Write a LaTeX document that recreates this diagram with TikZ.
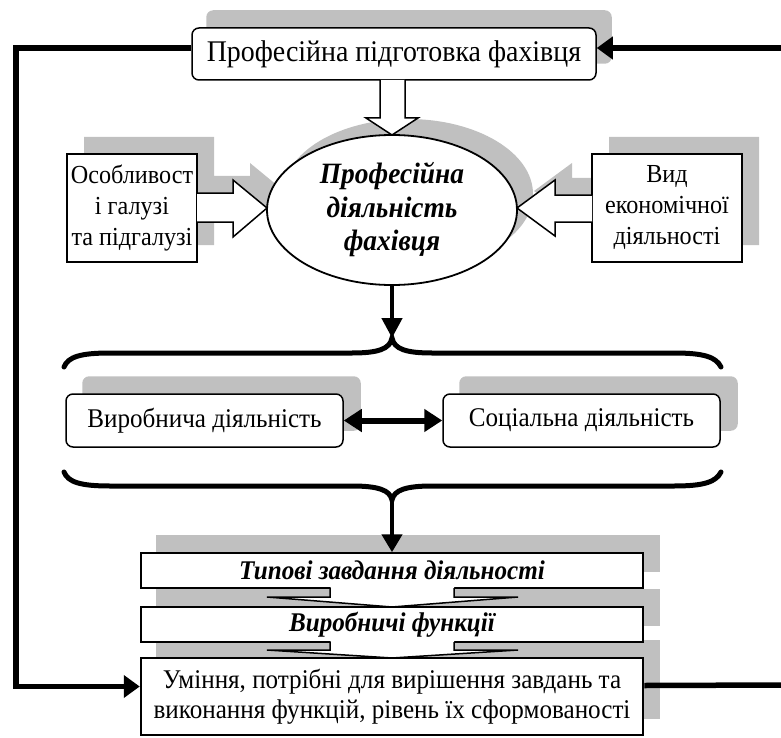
\documentclass[tikz,border=0pt]{standalone}
\usepackage{fontspec}
\setmainfont[FakeStretch=0.93]{Liberation Serif}
\usetikzlibrary{arrows.meta,calc,shapes.geometric}
\definecolor{shade}{RGB}{192,192,192}
\pgfdeclarelayer{bg}
\pgfsetlayers{bg,main}
\tikzset{
  box/.style={draw, line width=1.5pt, fill=white, inner sep=0pt, align=center},
  rbox/.style={box, rounded corners=7pt},
  fbline/.style={line width=5.5pt},
  fbtip/.style={-{Triangle[length=16pt,width=22pt]}},
  hollow/.style={draw, line width=1.5pt, fill=white, line join=miter},
  bracestyle/.style={line width=5pt, line cap=round},
  shadowfill/.style={fill=shade},
  toptxt/.style={font=\fontsize{30}{34}\selectfont},
  sidetxt/.style={font=\fontsize{26}{31}\selectfont},
  midtxt/.style={font=\fontsize{27}{31}\selectfont},
  lowtxt/.style={font=\bfseries\itshape\fontsize{27}{30}\selectfont},
  skltxt/.style={font=\fontsize{27}{30}\selectfont},
  elltxt/.style={font=\bfseries\itshape\fontsize{29.5}{33.5}\selectfont},
}
\begin{document}
\begin{tikzpicture}[x=1pt,y=-1pt]
\useasboundingbox (0,0) rectangle (781,738);

% nodes
\node[rbox, toptxt, minimum width=404pt, minimum height=52pt] (top) at (394,54) {Професійна підготовка фахівця};
\node[draw, line width=1.8pt, fill=white, ellipse, minimum width=250pt, minimum height=150pt, inner sep=0pt, align=center, elltxt] (ell) at (392,210) {Професійна\\діяльність\\фахівця};
\node[box, sidetxt, minimum width=130pt, minimum height=108pt] (lbox) at (132,208) {Особливост\\і галузі\\та підгалузі};
\node[box, sidetxt, minimum width=150pt, minimum height=108pt] (rbx) at (667,208) {Вид\\економічної\\діяльності};
\node[rbox, midtxt, minimum width=277pt, minimum height=53pt] (prod) at (204.5,420.5) {Виробнича діяльність};
\node[rbox, midtxt, minimum width=277pt, minimum height=53pt] (soc) at (581.5,420.5) {Соціальна діяльність};
\node[box, lowtxt, minimum width=502pt, minimum height=35pt] (typ) at (392,570.5) {Типові завдання діяльності};
\node[box, lowtxt, minimum width=502pt, minimum height=35pt] (fun) at (392,624.5) {Виробничі функції};
\node[box, line width=2.5pt, skltxt, minimum width=502pt, minimum height=77pt] (skl) at (392,696.5) {Уміння, потрібні для вирішення завдань та\\виконання функцій, рівень їх сформованості};

% shadows
\begin{pgfonlayer}{bg}
  \fill[shadowfill, rounded corners=7pt] ([shift={(15,-17)}]top.south west) rectangle ([shift={(15,-17)}]top.north east);
  \fill[shadowfill] ([shift={(16,-16)}]ell.center) ellipse [x radius=125pt, y radius=75pt];
  \fill[shadowfill, shift={(17,-17)}] (67,154) -- (197,154) -- (197,193) -- (233,193) -- (233,180) -- (267,208) -- (233,237) -- (233,222) -- (197,222) -- (197,262) -- (67,262) -- cycle;
  \fill[shadowfill, shift={(17,-17)}] (742,154) -- (592,154) -- (592,195) -- (555,195) -- (555,180) -- (517,208) -- (555,236) -- (555,222) -- (592,222) -- (592,262) -- (742,262) -- cycle;
  \fill[shadowfill, rounded corners=7pt] ([shift={(17,-17)}]prod.south west) rectangle ([shift={(17,-17)}]prod.north east);
  \fill[shadowfill, rounded corners=7pt] ([shift={(17,-17)}]soc.south west) rectangle ([shift={(17,-17)}]soc.north east);
  \fill[shadowfill] ([shift={(16,-17)}]typ.south west) rectangle ([shift={(16,-17)}]typ.north east);
  \fill[shadowfill] ([shift={(16,-17)}]fun.south west) rectangle ([shift={(16,-17)}]fun.north east);
  \fill[shadowfill] ([shift={(16,-17)}]skl.south west) rectangle ([shift={(16,-17)}]skl.north east);
\end{pgfonlayer}

% hollow arrows
\filldraw[hollow] (380,80) -- (380,118) -- (366,118) -- (392,135) -- (418,118) -- (405,118) -- (405,80);
\filldraw[hollow] (197,193) -- (233,193) -- (233,180) -- (267,208) -- (233,237) -- (233,222) -- (197,222);
\filldraw[hollow] (592,195) -- (555,195) -- (555,180) -- (517,208) -- (555,236) -- (555,222) -- (592,222);

% chevrons between lower boxes
\fill[white] (330.5,586.5) -- (330.5,597) -- (267,597) -- (392,607) -- (518,597) -- (454,597) -- (454,586.5) -- cycle;
\draw[line width=1.5pt] (330,588) -- (330,597) -- (267,597) -- (392,607) -- (518,597) -- (454,597) -- (454,588);
\fill[white] (330.5,640.5) -- (330.5,650) -- (267,650) -- (392,658) -- (518,650) -- (454,650) -- (454,640.5) -- cycle;
\draw[line width=1.5pt] (330,642) -- (330,650) -- (267,650) -- (392,658) -- (518,650) -- (454,650) -- (454,642);

% braces
\coordinate (b1) at (392,338);
\coordinate (b2) at (392,500);
\draw[bracestyle] (64,367) .. controls (68,357) and (80,353) .. (110,353) -- (352,353) .. controls (378,353) and (390,349) .. (b1) .. controls (394,349) and (406,353) .. (432,353) -- (674,353) .. controls (704,353) and (716,357) .. (721,367);
\draw[bracestyle] (64,472) .. controls (68,482) and (80,486) .. (110,486) -- (352,486) .. controls (378,486) and (390,490) .. (b2) .. controls (394,490) and (406,486) .. (432,486) -- (674,486) .. controls (704,486) and (716,482) .. (721,472);

% arrows
\draw[line width=4.5pt, -{Triangle[length=20pt,width=20pt]}] (ell.south) -- (b1);
\draw[line width=4.5pt, -{Triangle[length=18pt,width=20pt]}] (b2) -- (typ.north);
\draw[line width=6pt, {Triangle[length=18pt,width=22pt]}-{Triangle[length=18pt,width=22pt]}] (prod.east) -- (soc.west);

% feedback lines
\coordinate (rin) at (783,48);
\coordinate (rout) at (783,685);
\draw[fbline, fbtip] ([yshift=6pt]top.west) -- (16,48) |- ([yshift=10pt]skl.west);
\draw[fbline, fbtip] (rin) -- ([yshift=6pt]top.east);
\draw[fbline] ([yshift=11pt]skl.east) -- (rout);
\end{tikzpicture}
\end{document}
